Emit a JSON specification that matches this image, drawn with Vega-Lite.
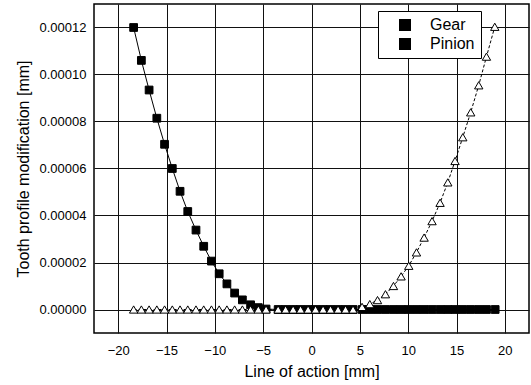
{
  "$schema": "https://vega.github.io/schema/vega-lite/v6.json",
  "width": 435,
  "height": 329,
  "autosize": "none",
  "padding": {"left": 94, "top": 4, "right": 2, "bottom": 52},
  "background": "white",
  "config": {
    "font": "Liberation Sans",
    "view": {"stroke": "black", "strokeWidth": 1.5},
    "axis": {
      "domain": false,
      "ticks": false,
      "grid": true,
      "gridColor": "#111111",
      "gridWidth": 1,
      "labelFont": "Liberation Sans",
      "labelFontSize": 13,
      "labelColor": "black",
      "titleFont": "Liberation Sans",
      "titleFontSize": 16,
      "titleFontWeight": "normal",
      "titleColor": "black"
    },
    "legend": {
      "orient": "none",
      "legendX": 284,
      "legendY": 7,
      "padding": 6,
      "strokeColor": "black",
      "fillColor": "white",
      "labelFont": "Liberation Sans",
      "labelFontSize": 16,
      "labelColor": "black",
      "symbolSize": 144,
      "symbolStrokeColor": "black",
      "symbolStrokeWidth": 1,
      "symbolOffset": 13,
      "labelOffset": 17,
      "rowPadding": 3
    }
  },
  "data": {
    "values": [
      {"series": "Gear", "x": -18.4, "y": 0.000120},
      {"series": "Gear", "x": -17.6, "y": 0.000106},
      {"series": "Gear", "x": -16.8, "y": 0.0000934},
      {"series": "Gear", "x": -16.0, "y": 0.0000814},
      {"series": "Gear", "x": -15.2, "y": 0.0000703},
      {"series": "Gear", "x": -14.4, "y": 0.0000600},
      {"series": "Gear", "x": -13.6, "y": 0.0000503},
      {"series": "Gear", "x": -12.8, "y": 0.0000417},
      {"series": "Gear", "x": -11.95, "y": 0.0000338},
      {"series": "Gear", "x": -11.15, "y": 0.0000269},
      {"series": "Gear", "x": -10.35, "y": 0.0000206},
      {"series": "Gear", "x": -9.55, "y": 0.0000152},
      {"series": "Gear", "x": -8.75, "y": 0.0000109},
      {"series": "Gear", "x": -7.95, "y": 0.0000070},
      {"series": "Gear", "x": -7.15, "y": 0.0000041},
      {"series": "Gear", "x": -6.3, "y": 0.0000020},
      {"series": "Gear", "x": -5.5, "y": 0.0000008},
      {"series": "Gear", "x": -4.7, "y": 0.0000002},
      {"series": "Gear", "x": -3.45, "y": 0},
      {"series": "Gear", "x": -2.68, "y": 0},
      {"series": "Gear", "x": -1.9, "y": 0},
      {"series": "Gear", "x": -1.13, "y": 0},
      {"series": "Gear", "x": -0.35, "y": 0},
      {"series": "Gear", "x": 0.42, "y": 0},
      {"series": "Gear", "x": 1.2, "y": 0},
      {"series": "Gear", "x": 1.97, "y": 0},
      {"series": "Gear", "x": 2.75, "y": 0},
      {"series": "Gear", "x": 3.52, "y": 0},
      {"series": "Gear", "x": 4.3, "y": 0},
      {"series": "Gear", "x": 5.23, "y": 0},
      {"series": "Gear", "x": 6.03, "y": 0},
      {"series": "Gear", "x": 6.83, "y": 0},
      {"series": "Gear", "x": 7.65, "y": 0},
      {"series": "Gear", "x": 8.48, "y": 0},
      {"series": "Gear", "x": 9.27, "y": 0},
      {"series": "Gear", "x": 10.06, "y": 0},
      {"series": "Gear", "x": 10.86, "y": 0},
      {"series": "Gear", "x": 11.65, "y": 0},
      {"series": "Gear", "x": 12.47, "y": 0},
      {"series": "Gear", "x": 13.3, "y": 0},
      {"series": "Gear", "x": 14.1, "y": 0},
      {"series": "Gear", "x": 14.85, "y": 0},
      {"series": "Gear", "x": 15.65, "y": 0},
      {"series": "Gear", "x": 16.47, "y": 0},
      {"series": "Gear", "x": 17.3, "y": 0},
      {"series": "Gear", "x": 18.1, "y": 0},
      {"series": "Gear", "x": 19.0, "y": 0},
      {"series": "Pinion", "x": -18.4, "y": 0},
      {"series": "Pinion", "x": -17.6, "y": 0},
      {"series": "Pinion", "x": -16.8, "y": 0},
      {"series": "Pinion", "x": -16.0, "y": 0},
      {"series": "Pinion", "x": -15.2, "y": 0},
      {"series": "Pinion", "x": -14.4, "y": 0},
      {"series": "Pinion", "x": -13.6, "y": 0},
      {"series": "Pinion", "x": -12.8, "y": 0},
      {"series": "Pinion", "x": -11.95, "y": 0},
      {"series": "Pinion", "x": -11.15, "y": 0},
      {"series": "Pinion", "x": -10.35, "y": 0},
      {"series": "Pinion", "x": -9.55, "y": 0},
      {"series": "Pinion", "x": -8.75, "y": 0},
      {"series": "Pinion", "x": -7.95, "y": 0},
      {"series": "Pinion", "x": -7.15, "y": 0},
      {"series": "Pinion", "x": -6.3, "y": 0},
      {"series": "Pinion", "x": -5.5, "y": 0},
      {"series": "Pinion", "x": -4.7, "y": 0},
      {"series": "Pinion", "x": -3.45, "y": 0},
      {"series": "Pinion", "x": -2.68, "y": 0},
      {"series": "Pinion", "x": -1.9, "y": 0},
      {"series": "Pinion", "x": -1.13, "y": 0},
      {"series": "Pinion", "x": -0.35, "y": 0},
      {"series": "Pinion", "x": 0.42, "y": 0},
      {"series": "Pinion", "x": 1.2, "y": 0},
      {"series": "Pinion", "x": 1.97, "y": 0},
      {"series": "Pinion", "x": 2.75, "y": 0},
      {"series": "Pinion", "x": 3.52, "y": 0},
      {"series": "Pinion", "x": 4.3, "y": 0},
      {"series": "Pinion", "x": 5.23, "y": 0.0000011},
      {"series": "Pinion", "x": 6.03, "y": 0.0000023},
      {"series": "Pinion", "x": 6.83, "y": 0.0000040},
      {"series": "Pinion", "x": 7.65, "y": 0.0000065},
      {"series": "Pinion", "x": 8.48, "y": 0.0000100},
      {"series": "Pinion", "x": 9.27, "y": 0.0000141},
      {"series": "Pinion", "x": 10.06, "y": 0.0000186},
      {"series": "Pinion", "x": 10.86, "y": 0.0000243},
      {"series": "Pinion", "x": 11.65, "y": 0.0000306},
      {"series": "Pinion", "x": 12.47, "y": 0.0000376},
      {"series": "Pinion", "x": 13.3, "y": 0.0000454},
      {"series": "Pinion", "x": 14.1, "y": 0.0000541},
      {"series": "Pinion", "x": 14.85, "y": 0.0000632},
      {"series": "Pinion", "x": 15.65, "y": 0.0000733},
      {"series": "Pinion", "x": 16.47, "y": 0.0000839},
      {"series": "Pinion", "x": 17.3, "y": 0.0000954},
      {"series": "Pinion", "x": 18.1, "y": 0.0001076},
      {"series": "Pinion", "x": 18.96, "y": 0.0001203}
    ]
  },
  "encoding": {
    "x": {
      "field": "x",
      "type": "quantitative",
      "title": "Line of action [mm]",
      "scale": {"domain": [-22.5, 22.5], "nice": false, "zero": false},
      "axis": {"values": [-20, -15, -10, -5, 0, 5, 10, 15, 20], "labelPadding": 11, "titlePadding": 6}
    },
    "y": {
      "field": "y",
      "type": "quantitative",
      "title": "Tooth profile modification [mm]",
      "scale": {"domain": [-0.00001, 0.00013], "nice": false, "zero": false},
      "axis": {"values": [0, 0.00002, 0.00004, 0.00006, 0.00008, 0.0001, 0.00012], "format": ".5f", "labelPadding": 8, "titlePadding": 8}
    }
  },
  "layer": [
    {
      "transform": [{"filter": "datum.series === 'Gear'"}],
      "mark": {"type": "line", "color": "black", "strokeWidth": 1},
      "encoding": {}
    },
    {
      "transform": [{"filter": "datum.series === 'Pinion'"}],
      "mark": {"type": "line", "color": "black", "strokeWidth": 1, "strokeDash": [3, 2]},
      "encoding": {}
    },
    {
      "transform": [{"filter": "datum.series === 'Gear'"}],
      "mark": {"type": "point", "shape": "square", "filled": true, "fill": "black", "stroke": "black", "strokeWidth": 1, "size": 60},
      "encoding": {
        "opacity": {
          "field": "series",
          "type": "nominal",
          "scale": {"domain": ["Gear", "Pinion"], "range": [1, 1]},
          "legend": {
            "title": null,
            "encode": {
              "symbols": {
                "shape": {"condition": {"test": "datum.value === 'Gear'", "value": "M-3.2,0H-0.7M0.7,0H3.2M-0.7,-0.7H0.7V0.7H-0.7Z"}, "value": "M-3.2,0H-0.55M0.55,0H3.2M0,-0.8L0.85,0.65H-0.85Z"},
                "fill": {"condition": {"test": "datum.value === 'Gear'", "value": "black"}, "value": "white"},
                "stroke": {"value": "black"},
                "strokeWidth": {"value": 1}
              }
            }
          }
        }
      }
    },
    {
      "transform": [{"filter": "datum.series === 'Pinion'"}],
      "mark": {"type": "point", "shape": "triangle-up", "filled": true, "fill": "white", "stroke": "black", "strokeWidth": 1, "size": 70},
      "encoding": {
        "opacity": {
          "field": "series",
          "type": "nominal",
          "scale": {"domain": ["Gear", "Pinion"], "range": [1, 1]},
          "legend": {
            "title": null,
            "encode": {
              "symbols": {
                "shape": {"condition": {"test": "datum.value === 'Gear'", "value": "M-3.2,0H-0.7M0.7,0H3.2M-0.7,-0.7H0.7V0.7H-0.7Z"}, "value": "M-3.2,0H-0.55M0.55,0H3.2M0,-0.8L0.85,0.65H-0.85Z"},
                "fill": {"condition": {"test": "datum.value === 'Gear'", "value": "black"}, "value": "white"},
                "stroke": {"value": "black"},
                "strokeWidth": {"value": 1}
              }
            }
          }
        }
      }
    }
  ]
}
